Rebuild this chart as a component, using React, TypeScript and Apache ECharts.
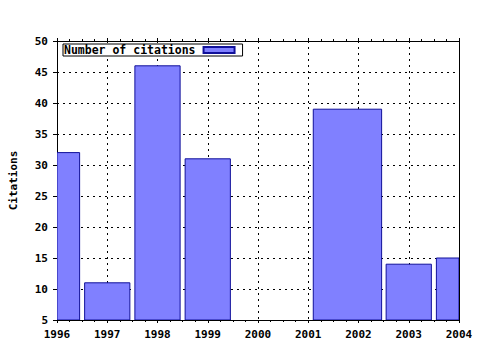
import React, { useEffect, useRef } from "react";
import * as echarts from "echarts";

const years = [1996, 1997, 1998, 1999, 2002, 2003, 2004];
const citations = [32, 11, 46, 31, 39, 14, 15];
const barStart = [1995.55, 1996.55, 1997.55, 1998.55, 2001.1, 2002.55, 2003.55];
const barEnd = [1996.45, 1997.45, 1998.45, 1999.45, 2002.46, 2003.45, 2004.45];
const xMin = 1996;
const xMax = 2004;
const yMin = 5;
const yMax = 50;
const seriesName = "Number of citations";
const yName = "Citations";

const FONT = "DejaVu Sans Mono";

export default function App() {
  const ref = useRef<HTMLDivElement>(null);
  useEffect(() => {
    if (!ref.current) return;
    const chart = echarts.init(ref.current, undefined, { renderer: "svg" });
    const data = years.map((y, i) => [barStart[i], barEnd[i], citations[i], y]);
    const dotted = { color: "#000", width: 1, type: [2, 4] as any };
    const labelStyle = { fontFamily: FONT, fontWeight: "bold" as const, fontSize: 11, color: "#000" };
    chart.setOption({
      animation: false,
      backgroundColor: "#fff",
      grid: { left: 57, right: 21, top: 41, bottom: 30, containLabel: false },
      legend: {
        show: true,
        left: 63,
        top: 44,
        orient: "horizontal",
        align: "right",
        itemWidth: 31,
        itemHeight: 6,
        padding: [0, 7, 0, 1],
        backgroundColor: "#fff",
        borderColor: "#000",
        borderWidth: 1,
        textStyle: { ...labelStyle, fontSize: 11.5, padding: [0, 3, 0, 0] },
        data: [{ name: seriesName, icon: "rect" }],
      },
      xAxis: [
        {
          type: "value",
          min: xMin,
          max: xMax,
          interval: 1,
          axisLine: { show: true, lineStyle: { color: "#000", width: 1 } },
          axisTick: { show: true, inside: false, length: 3, lineStyle: { color: "#000" } },
          minorTick: { show: true, splitNumber: 4, length: 2, lineStyle: { color: "#000" } },
          axisLabel: { ...labelStyle, margin: 9, formatter: (v: number) => String(v) },
          splitLine: { show: true, lineStyle: dotted },
        },
        {
          type: "value",
          position: "top",
          min: xMin,
          max: xMax,
          interval: 1,
          axisLine: { show: true, lineStyle: { color: "#000", width: 1 } },
          axisTick: { show: true, inside: false, length: 3, lineStyle: { color: "#000" } },
          minorTick: { show: true, splitNumber: 4, length: 2, lineStyle: { color: "#000" } },
          axisLabel: { show: false },
          splitLine: { show: false },
        },
      ],
      yAxis: [
        {
          type: "value",
          min: yMin,
          max: yMax,
          interval: 5,
          name: yName,
          nameLocation: "middle",
          nameGap: 38,
          nameTextStyle: labelStyle,
          axisLine: { show: true, lineStyle: { color: "#000", width: 1 } },
          axisTick: { show: true, inside: false, length: 4, lineStyle: { color: "#000" } },
          axisLabel: { ...labelStyle, margin: 9 },
          splitLine: { show: true, lineStyle: dotted },
        },
        {
          type: "value",
          position: "right",
          min: yMin,
          max: yMax,
          interval: 5,
          axisLine: { show: true, lineStyle: { color: "#000", width: 1 } },
          axisTick: { show: false },
          axisLabel: { show: false },
          splitLine: { show: false },
        },
      ],
      series: [
        {
          type: "custom",
          name: seriesName,
          xAxisIndex: 0,
          yAxisIndex: 0,
          clip: true,
          itemStyle: { color: "#8080ff", borderColor: "#10109a", borderWidth: 1 },
          encode: { x: [0, 1], y: 2 },
          data,
          renderItem: (params: any, api: any) => {
            const p0 = api.coord([api.value(0), api.value(2)]);
            const p1 = api.coord([api.value(1), yMin]);
            const cs = params.coordSys;
            const rect = echarts.graphic.clipRectByRect(
              { x: p0[0], y: p0[1], width: p1[0] - p0[0], height: p1[1] - p0[1] },
              { x: cs.x, y: cs.y, width: cs.width, height: cs.height }
            );
            if (!rect) return null;
            return {
              type: "rect",
              shape: rect,
              style: { fill: "#8080ff", stroke: "#10109a", lineWidth: 1 },
            };
          },
        },
      ],
    });
    return () => chart.dispose();
  }, []);
  return (
    <div
      ref={ref}
      style={{ position: "fixed", left: 0, top: 0, width: 480, height: 350 }}
    />
  );
}
